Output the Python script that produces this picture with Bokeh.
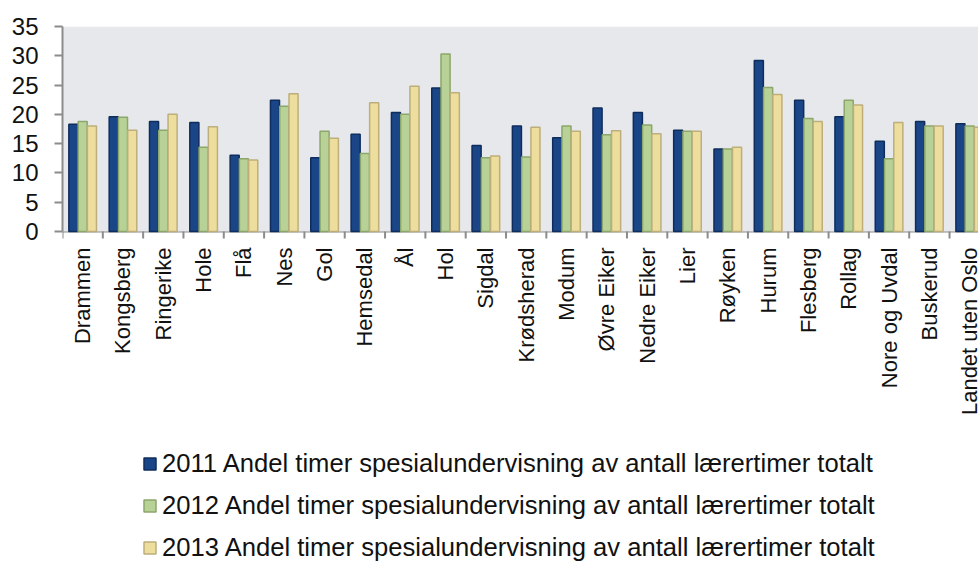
import math
from bokeh.plotting import figure
from bokeh.models import (Range1d, FixedTicker, Legend, LegendItem, ColumnDataSource,
                          BoxAnnotation)
from bokeh.core.properties import value
from bokeh.embed import file_html
from bokeh.resources import INLINE

categories = ["Drammen", "Kongsberg", "Ringerike", "Hole", "Flå", "Nes", "Gol",
              "Hemsedal", "Ål", "Hol", "Sigdal", "Krødsherad", "Modum", "Øvre Eiker",
              "Nedre Eiker", "Lier", "Røyken", "Hurum", "Flesberg", "Rollag",
              "Nore og Uvdal", "Buskerud", "Landet uten Oslo"]
v2011 = [18.3, 19.6, 18.8, 18.6, 13.0, 22.4, 12.6, 16.6, 20.3, 24.5, 14.7, 18.0,
         16.0, 21.1, 20.3, 17.3, 14.1, 29.2, 22.4, 19.6, 15.4, 18.8, 18.4]
v2012 = [18.8, 19.5, 17.3, 14.4, 12.4, 21.4, 17.1, 13.3, 20.0, 30.3, 12.6, 12.7,
         18.0, 16.5, 18.2, 17.1, 14.1, 24.6, 19.3, 22.4, 12.4, 18.0, 18.0]
v2013 = [18.0, 17.3, 20.0, 17.9, 12.2, 23.5, 15.9, 22.0, 24.8, 23.7, 12.9, 17.8,
         17.1, 17.2, 16.7, 17.1, 14.4, 23.4, 18.8, 21.6, 18.6, 18.0, 17.8]
series_labels = ["2011 Andel timer spesialundervisning av antall lærertimer totalt",
                 "2012 Andel timer spesialundervisning av antall lærertimer totalt",
                 "2013 Andel timer spesialundervisning av antall lærertimer totalt"]
y_ticks = [0, 5, 10, 15, 20, 25, 30, 35]

FONT = "Liberation Sans"
n = len(categories)
px_per_cat = 40.32
W, H = 978, 562
left_b, top_b = 62, 26
plot_h = 205                      # pixel height of the 0..35 value band
ppu = plot_h / 35.0               # pixels per value unit
frame_h = H - top_b
frame_w = W - left_b
y_min = -(frame_h - plot_h) / ppu

p = figure(width=W, height=H, output_backend="svg", toolbar_location=None,
           x_range=Range1d(0, frame_w / px_per_cat), y_range=Range1d(y_min, 35),
           min_border_left=left_b, min_border_right=0, min_border_top=top_b,
           min_border_bottom=0)
p.background_fill_color = "white"
p.border_fill_color = "white"
p.outline_line_color = None

# grey plot-area band between 0 and 35
p.add_layout(BoxAnnotation(bottom=0, top=35, fill_color="#E7E8EB", fill_alpha=1,
                           line_color=None, level="underlay"))

fills = ["#1A4586", "#B8D196", "#EEDE9D"]
lines = ["#0F2D5C", "#8CA76B", "#BDAE7C"]
offsets = [-0.23, 0.0, 0.23]
renderers = []
for vals, off, fc, lc in zip([v2011, v2012, v2013], offsets, fills, lines):
    src = ColumnDataSource(dict(x=[i + 0.5 + off for i in range(n)], top=vals))
    r = p.vbar(x="x", top="top", width=0.225, bottom=0, source=src,
               fill_color=fc, line_color=lc, line_width=1.5)
    renderers.append(r)

# category separator tick marks below the zero line
bounds_x = list(range(n + 1))
p.segment(x0=bounds_x, y0=[0] * (n + 1), x1=bounds_x, y1=[-7 / ppu] * (n + 1),
          line_color="#8C8C8C", line_width=2)

# category labels (rotated) below the zero line
lab_src = ColumnDataSource(dict(x=[i + 0.5 for i in range(n)],
                                y=[-16 / ppu] * n, text=categories))
p.text(x="x", y="y", text="text", source=lab_src, angle=math.pi / 2,
       text_align="right", text_baseline="middle", text_font=value(FONT),
       text_font_size="22px", text_color="#111111")

# y axis
p.yaxis.ticker = FixedTicker(ticks=y_ticks)
p.yaxis.bounds = (0, 35)
p.yaxis.major_label_text_font = FONT
p.yaxis.major_label_text_font_size = "24px"
p.yaxis.major_label_text_color = "#111111"
p.yaxis.axis_line_color = "#8C8C8C"
p.yaxis.axis_line_width = 2
p.yaxis.major_tick_line_color = "#8C8C8C"
p.yaxis.major_tick_line_width = 2
p.yaxis.major_tick_out = 8
p.yaxis.major_tick_in = 0
p.yaxis.minor_tick_line_color = None
p.yaxis.major_label_standoff = 16

p.xaxis.visible = False
p.xgrid.visible = False

# horizontal grid lines
p.ygrid.ticker = FixedTicker(ticks=y_ticks)
p.ygrid.grid_line_color = "#8C8C8C"
p.ygrid.grid_line_width = 2

legend = Legend(items=[LegendItem(label=l, renderers=[r]) for l, r in zip(series_labels, renderers)],
                location=(80, 0), orientation="vertical")
legend.label_text_font = FONT
legend.label_text_font_size = "25.6px"
legend.label_text_color = "#111111"
legend.glyph_width = 15
legend.glyph_height = 15
legend.label_standoff = 5
legend.label_height = 20
legend.spacing = 13
legend.padding = 0
legend.margin = 0
legend.border_line_color = None
legend.background_fill_alpha = 0
p.add_layout(legend, "center")

open("out.html", "w").write(file_html(p, INLINE))
